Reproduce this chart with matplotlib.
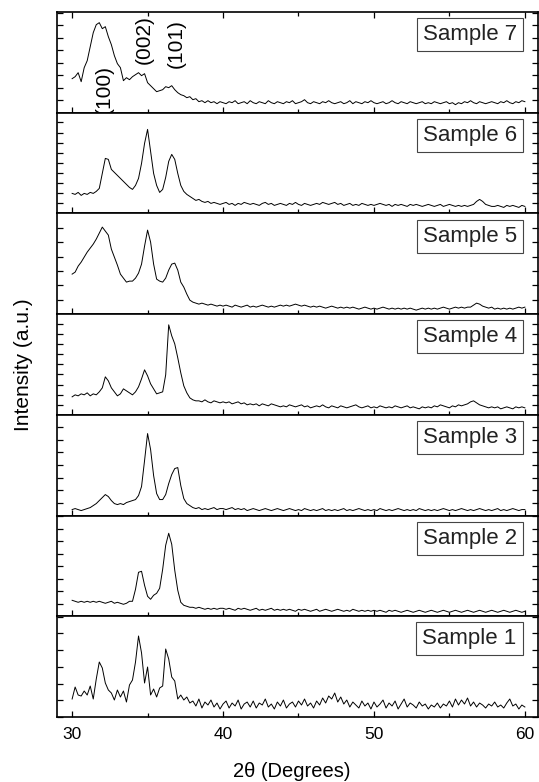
import numpy as np
import matplotlib
matplotlib.use("Agg")
import matplotlib.pyplot as plt
from matplotlib.ticker import MultipleLocator

plt.rcParams['font.family'] = ['Liberation Sans', 'DejaVu Sans']

# 2theta grid, 0.2 degree steps from 30 to 60
two_theta = np.round(np.arange(30.0, 60.0001, 0.2), 1)

# intensities (arbitrary units), one list per sample
sample_7 = [34, 36, 40, 31, 45, 52, 66, 80, 88, 90,
            84, 86, 76, 68, 57, 49, 45, 32, 35, 33,
            36, 38, 40, 37, 39, 30, 27, 24, 21, 22,
            23, 26, 25, 27, 23, 20, 18, 17, 15, 16,
            13, 14, 11, 12, 10, 12, 10, 11, 9, 11,
            10, 9, 11, 10, 12, 9, 10, 11, 9, 12,
            10, 9, 11, 10, 9, 12, 10, 9, 11, 10,
            9, 11, 10, 12, 9, 10, 11, 13, 10, 9,
            11, 10, 9, 11, 10, 12, 10, 9, 10, 11,
            9, 10, 12, 9, 11, 10, 9, 11, 10, 12,
            10, 9, 10, 11, 9, 10, 12, 10, 9, 11,
            10, 9, 11, 10, 9, 10, 11, 9, 10, 9,
            11, 10, 9, 10, 11, 9, 10, 8, 10, 9,
            11, 10, 12, 10, 9, 11, 10, 9, 10, 11,
            10, 9, 11, 10, 12, 10, 9, 11, 10, 12,
            11]

sample_6 = [20, 19, 21, 18, 20, 19, 21, 20, 22, 25,
            40, 55, 54, 44, 41, 38, 35, 32, 29, 26,
            24, 28, 35, 50, 70, 84, 62, 40, 28, 21,
            24, 36, 52, 59, 54, 40, 28, 22, 19, 17,
            15, 13, 14, 12, 11, 12, 10, 11, 10, 9,
            10, 11, 9, 10, 8, 10, 9, 11, 10, 9,
            10, 9, 8, 10, 11, 9, 10, 8, 9, 10,
            9, 8, 10, 9, 11, 9, 8, 10, 9, 8,
            9, 10, 9, 11, 10, 9, 10, 11, 9, 10,
            8, 9, 10, 8, 9, 8, 10, 9, 8, 9,
            8, 9, 10, 9, 8, 9, 7, 9, 8, 9,
            8, 7, 9, 8, 9, 8, 7, 8, 9, 8,
            7, 8, 9, 7, 8, 9, 8, 7, 8, 7,
            8, 7, 8, 9, 12, 14, 12, 9, 8, 7,
            7, 8, 7, 6, 8, 7, 8, 7, 6, 8,
            7]

sample_5 = [40, 42, 48, 52, 57, 62, 66, 70, 75, 81,
            87, 83, 79, 65, 57, 49, 40, 36, 32, 33,
            33, 36, 41, 50, 68, 84, 72, 50, 35, 33,
            32, 36, 44, 50, 51, 44, 32, 27, 20, 14,
            12, 11, 10, 11, 10, 9, 10, 9, 8, 9,
            8, 9, 8, 7, 9, 8, 7, 8, 9, 7,
            8, 7, 8, 9, 8, 7, 8, 7, 8, 9,
            8, 9, 8, 9, 10, 9, 8, 9, 8, 7,
            8, 7, 8, 7, 6, 7, 8, 7, 6, 7,
            6, 7, 6, 7, 6, 5, 6, 7, 6, 5,
            6, 5, 6, 7, 6, 5, 6, 5, 6, 5,
            6, 5, 6, 5, 4, 5, 6, 5, 6, 5,
            6, 5, 6, 7, 6, 5, 6, 7, 6, 7,
            6, 7, 7, 9, 11, 10, 8, 7, 6, 7,
            5, 6, 5, 6, 5, 6, 5, 6, 7, 6,
            7]

sample_4 = [18, 20, 19, 21, 20, 22, 19, 21, 20, 23,
            27, 38, 34, 27, 23, 19, 21, 26, 24, 22,
            20, 23, 28, 36, 45, 39, 31, 26, 21, 22,
            23, 40, 90, 79, 71, 57, 42, 29, 22, 17,
            15, 14, 14, 13, 15, 13, 12, 14, 13, 12,
            13, 12, 13, 11, 12, 13, 11, 12, 10, 11,
            10, 11, 9, 11, 10, 9, 11, 10, 9, 8,
            9, 8, 10, 9, 8, 9, 10, 8, 9, 7,
            8, 9, 8, 10, 8, 7, 9, 8, 7, 9,
            8, 7, 8, 9, 10, 8, 7, 8, 9, 7,
            8, 7, 9, 8, 7, 8, 7, 9, 8, 7,
            8, 9, 7, 8, 7, 6, 8, 7, 8, 7,
            9, 8, 10, 9, 8, 7, 9, 8, 10, 9,
            10, 11, 13, 14, 12, 10, 9, 8, 7, 8,
            7, 8, 6, 7, 8, 7, 6, 8, 7, 8,
            7]

sample_3 = [6, 7, 6, 5, 6, 7, 8, 10, 12, 15,
            18, 21, 19, 15, 12, 11, 12, 11, 13, 14,
            15, 16, 20, 29, 55, 82, 66, 40, 22, 16,
            16, 21, 32, 41, 47, 48, 30, 17, 12, 10,
            8, 7, 8, 6, 7, 6, 7, 8, 6, 7,
            7, 6, 7, 8, 6, 7, 6, 7, 5, 6,
            7, 6, 5, 6, 7, 6, 5, 6, 7, 6,
            5, 6, 7, 6, 5, 6, 5, 7, 6, 5,
            6, 5, 6, 7, 5, 6, 5, 6, 5, 6,
            7, 5, 6, 5, 6, 7, 6, 5, 6, 5,
            6, 5, 7, 6, 5, 6, 5, 6, 7, 6,
            5, 6, 5, 6, 5, 7, 6, 5, 6, 5,
            6, 5, 6, 7, 6, 5, 6, 5, 6, 7,
            6, 5, 6, 5, 6, 7, 6, 5, 6, 5,
            6, 7, 5, 6, 5, 6, 7, 6, 5, 6,
            6]

sample_2 = [16, 15, 14, 15, 14, 15, 14, 15, 14, 15,
            14, 13, 14, 15, 13, 14, 13, 12, 13, 15,
            15, 27, 44, 45, 31, 20, 17, 21, 23, 28,
            47, 71, 83, 72, 46, 26, 14, 11, 10, 9,
            9, 8, 9, 8, 7, 8, 7, 8, 7, 8,
            8, 7, 8, 7, 6, 8, 7, 8, 7, 6,
            7, 8, 6, 7, 6, 7, 8, 6, 7, 6,
            7, 6, 7, 6, 5, 7, 6, 7, 6, 5,
            6, 7, 5, 6, 7, 6, 5, 6, 7, 6,
            5, 6, 5, 7, 6, 5, 6, 5, 6, 5,
            6, 5, 6, 5, 4, 6, 5, 6, 5, 4,
            5, 6, 5, 4, 5, 6, 5, 4, 5, 6,
            5, 4, 5, 6, 5, 4, 5, 6, 5, 4,
            5, 6, 5, 4, 5, 6, 5, 4, 5, 6,
            5, 4, 5, 6, 5, 4, 5, 6, 5, 4,
            5]

sample_1 = [18, 30, 22, 21, 26, 22, 31, 18, 38, 55,
            49, 34, 27, 24, 17, 27, 20, 26, 15, 32,
            37, 55, 81, 64, 34, 50, 22, 28, 20, 29,
            31, 68, 58, 40, 36, 18, 22, 17, 20, 14,
            16, 11, 18, 9, 15, 12, 17, 10, 14, 8,
            13, 16, 9, 14, 11, 17, 8, 13, 15, 10,
            16, 9, 14, 12, 18, 10, 13, 8, 15, 11,
            17, 9, 13, 15, 10, 16, 12, 18, 11, 14,
            9, 16, 12, 19, 14, 21, 18, 24, 15, 20,
            13, 17, 10, 15, 12, 9, 16, 11, 14, 8,
            15, 10, 13, 17, 9, 14, 11, 16, 8, 13,
            18, 10, 14, 12, 9, 15, 11, 13, 8, 12,
            10, 14, 9, 13, 11, 16, 10, 18, 12, 17,
            13, 19, 11, 15, 10, 14, 12, 9, 13, 11,
            15, 10, 12, 9, 14, 18, 11, 13, 8, 12,
            10]

sample_names = ['Sample 7', 'Sample 6', 'Sample 5', 'Sample 4',
                'Sample 3', 'Sample 2', 'Sample 1']
patterns = [sample_7, sample_6, sample_5, sample_4, sample_3, sample_2, sample_1]
# spacing of the unlabeled y ticks in each panel
ytick_step = [12.5, 10.1, 14.4, 10.1, 12.65, 12.5, 16.7]

peak_labels = ['(100)', '(002)', '(101)']
peak_pos = [32.1, 34.77, 36.9]
peak_ypos = [0.23, 0.73, 0.69]

fig, axes = plt.subplots(7, 1, sharex=True, figsize=(5.39, 7.82), dpi=100)
fig.subplots_adjust(left=0.1058, right=0.999, top=0.9847, bottom=0.0831, hspace=0)

for i, ax in enumerate(axes):
    ax.plot(two_theta, patterns[i], color='black', lw=0.7)
    ax.set_xlim(29.0, 60.9)
    ax.set_ylim(0, 100.7)
    ax.yaxis.set_major_locator(MultipleLocator(ytick_step[i]))
    ax.set_yticklabels([])
    ax.xaxis.set_major_locator(MultipleLocator(10))
    ax.xaxis.set_minor_locator(MultipleLocator(5))
    ax.tick_params(axis='y', direction='in', left=True, right=True, length=4, width=0.9)
    ax.tick_params(axis='x', which='major', direction='in', bottom=True, top=(i == 0),
                   length=4.5, width=0.9, labelsize=12.5, pad=7)
    ax.tick_params(axis='x', which='minor', direction='in', bottom=True, top=(i == 0),
                   length=3, width=0.9)
    for sp in ax.spines.values():
        sp.set_linewidth(1.2)
    ax.text(0.857, 0.775, sample_names[i], transform=ax.transAxes, fontsize=16,
            ha='center', va='center', color='#222222',
            bbox=dict(boxstyle='square,pad=0.27', fc='white', ec='#444444', lw=0.8))

for lab, xp, yp in zip(peak_labels, peak_pos, peak_ypos):
    axes[0].text(xp, yp, lab, transform=axes[0].get_xaxis_transform(), rotation=90,
                 fontsize=15, ha='center', va='center', clip_on=True)

fig.text(0.542, 0.0135, '2θ (Degrees)', fontsize=14.5, ha='center', va='center')
fig.text(0.0445, 0.534, 'Intensity (a.u.)', fontsize=15, rotation=90, ha='center', va='center')

fig.savefig('out.png', dpi=100)
